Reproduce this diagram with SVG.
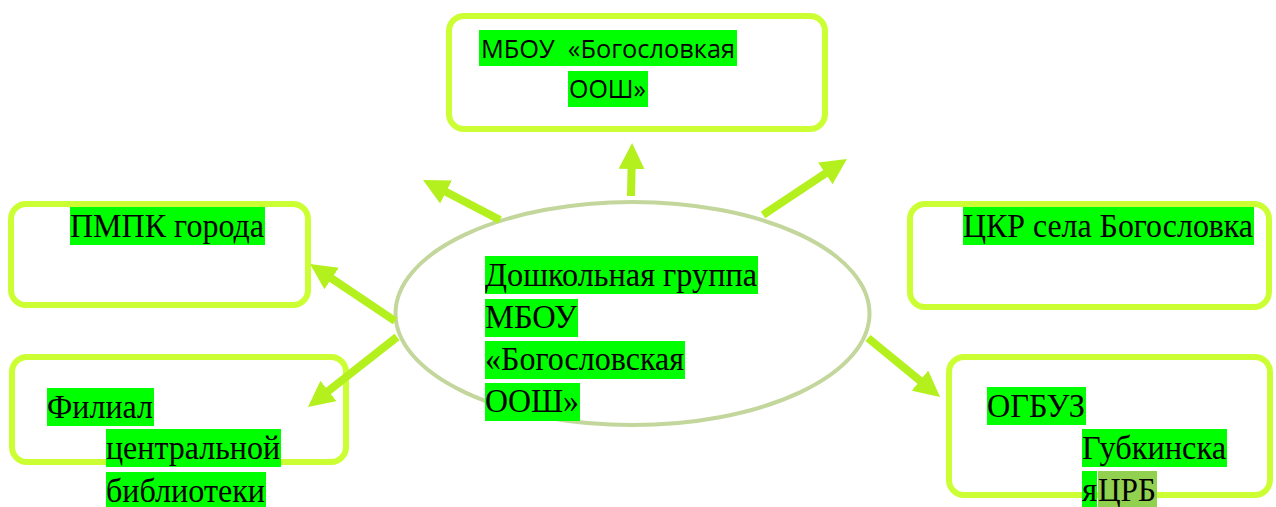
<svg xmlns="http://www.w3.org/2000/svg" width="1276" height="507" viewBox="0 0 1276 507">
<style>
.box{fill:#fff;stroke:#ccff33;stroke-width:6}
.ell{fill:#fff;stroke:#c3d69b;stroke-width:4}
.hl{fill:#00ff00}
.hl2{fill:#92d050}
.serif{font-family:"Liberation Serif","Times New Roman",serif;font-size:33px;fill:#000}
.sans{font-family:"Open Sans","Noto Sans","Liberation Sans",sans-serif;font-size:25px;fill:#000}
.arr{stroke:#b3f01e;stroke-width:8;fill:none;marker-end:url(#ah)}
</style>
<defs>
<marker id="ah" markerUnits="userSpaceOnUse" viewBox="0 0 26 26" markerWidth="26" markerHeight="26" refX="2" refY="13" orient="auto">
<path d="M0,0 L26,13 L0,26 z" fill="#b3f01e"/>
</marker>
</defs>
<rect width="1276" height="507" fill="#fff"/>
<g id="node-top"><rect class="box" x="449" y="16" width="376" height="113" rx="15"/></g>
<g id="node-pmpk"><rect class="box" x="11" y="204" width="297" height="101" rx="15"/></g>
<g id="node-filial"><rect class="box" x="12" y="357" width="334" height="105" rx="15"/></g>
<g id="node-ckr"><rect class="box" x="910" y="204" width="359" height="103" rx="15"/></g>
<g id="node-ogbuz"><rect class="box" x="949" y="357" width="321" height="138" rx="15"/></g>
<g id="node-center"><ellipse class="ell" cx="632.5" cy="313.5" rx="237" ry="111.5"/></g>
<g id="connectors">
<line class="arr" x1="631" y1="196" x2="631.6" y2="167"/>
<line class="arr" x1="500" y1="220" x2="444.3" y2="191"/>
<line class="arr" x1="763" y1="215" x2="827" y2="172.3"/>
<line class="arr" x1="395" y1="321" x2="330" y2="277.4"/>
<line class="arr" x1="397" y1="337" x2="326.9" y2="392.2"/>
<line class="arr" x1="868" y1="338" x2="921.5" y2="381.8"/>
</g>
<g id="text-top">
<rect class="hl" x="479" y="30" width="258" height="36"/>
<rect class="hl" x="568" y="71" width="80" height="36"/>
<text class="sans" x="481" y="58" textLength="254" lengthAdjust="spacingAndGlyphs">МБОУ&#160; «Богословкая</text>
<text class="sans" x="569" y="98" textLength="77" lengthAdjust="spacingAndGlyphs">ООШ»</text>
</g>
<g id="text-pmpk">
<rect class="hl" x="70" y="207" width="195" height="38"/>
<text class="serif" x="70" y="237" textLength="194" lengthAdjust="spacingAndGlyphs">ПМПК города</text>
</g>
<g id="text-ckr">
<rect class="hl" x="963" y="207" width="291" height="38"/>
<text class="serif" x="963" y="237" textLength="290" lengthAdjust="spacingAndGlyphs">ЦКР села Богословка</text>
</g>
<g id="text-center">
<rect class="hl" x="485" y="256" width="273" height="38"/>
<rect class="hl" x="485" y="299" width="93" height="38"/>
<rect class="hl" x="485" y="341" width="200" height="38"/>
<rect class="hl" x="485" y="383" width="95" height="38"/>
<text class="serif" x="485" y="286" textLength="272" lengthAdjust="spacingAndGlyphs">Дошкольная группа</text>
<text class="serif" x="485" y="328" textLength="92" lengthAdjust="spacingAndGlyphs">МБОУ</text>
<text class="serif" x="485" y="370" textLength="199" lengthAdjust="spacingAndGlyphs">«Богословская</text>
<text class="serif" x="485" y="412" textLength="94" lengthAdjust="spacingAndGlyphs">ООШ»</text>
</g>
<g id="text-filial">
<rect class="hl" x="47" y="388" width="107" height="38"/>
<rect class="hl" x="106" y="429" width="175" height="38"/>
<rect class="hl" x="106" y="472" width="160" height="38"/>
<text class="serif" x="47" y="418" textLength="106" lengthAdjust="spacingAndGlyphs">Филиал</text>
<text class="serif" x="106" y="459" textLength="174" lengthAdjust="spacingAndGlyphs">центральной</text>
<text class="serif" x="106" y="502" textLength="159" lengthAdjust="spacingAndGlyphs">библиотеки</text>
</g>
<g id="text-ogbuz">
<rect class="hl" x="987" y="387" width="99" height="38"/>
<rect class="hl" x="1082" y="429" width="145" height="38"/>
<rect class="hl" x="1082" y="471" width="15" height="38"/>
<rect class="hl2" x="1098" y="471" width="59" height="38"/>
<text class="serif" x="987" y="417" textLength="98" lengthAdjust="spacingAndGlyphs">ОГБУЗ</text>
<text class="serif" x="1082" y="459" textLength="144" lengthAdjust="spacingAndGlyphs">Губкинска</text>
<text class="serif" x="1082" y="501">я<tspan x="1098" textLength="58" lengthAdjust="spacingAndGlyphs">ЦРБ</tspan></text>
</g>
</svg>
